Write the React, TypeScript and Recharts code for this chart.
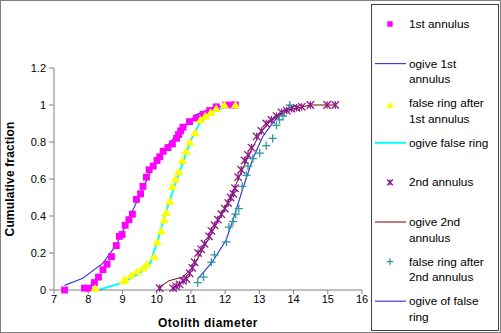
import { ComposedChart, Line, Scatter, XAxis, YAxis } from 'recharts'

// observed cumulative fractions by otolith diameter
const annulus1 = [
  { x: 7.31, y: 0.0 }, { x: 7.89, y: 0.01 }, { x: 8.02, y: 0.01 }, { x: 8.18, y: 0.04 },
  { x: 8.3, y: 0.07 }, { x: 8.43, y: 0.11 }, { x: 8.55, y: 0.14 }, { x: 8.68, y: 0.18 },
  { x: 8.82, y: 0.24 }, { x: 8.91, y: 0.29 }, { x: 8.99, y: 0.3 }, { x: 9.08, y: 0.35 },
  { x: 9.19, y: 0.38 }, { x: 9.29, y: 0.41 }, { x: 9.41, y: 0.49 }, { x: 9.53, y: 0.52 },
  { x: 9.6, y: 0.56 }, { x: 9.7, y: 0.61 }, { x: 9.78, y: 0.65 }, { x: 9.9, y: 0.67 },
  { x: 10.01, y: 0.7 }, { x: 10.09, y: 0.72 }, { x: 10.19, y: 0.75 }, { x: 10.33, y: 0.77 },
  { x: 10.46, y: 0.79 }, { x: 10.58, y: 0.82 }, { x: 10.64, y: 0.84 }, { x: 10.7, y: 0.86 },
  { x: 10.77, y: 0.88 }, { x: 10.96, y: 0.91 }, { x: 11.16, y: 0.93 }, { x: 11.36, y: 0.95 },
  { x: 11.55, y: 0.97 }, { x: 11.74, y: 0.99 }, { x: 12.02, y: 1.0 }, { x: 12.22, y: 1.0 },
  { x: 12.3, y: 1.0 },
]
const ogive1 = [
  { x: 7.31, y: 0.025 }, { x: 7.84, y: 0.063 }, { x: 8.43, y: 0.145 }, { x: 8.82, y: 0.244 },
  { x: 9.3, y: 0.43 }, { x: 9.7, y: 0.59 }, { x: 9.89, y: 0.67 }, { x: 10.38, y: 0.795 },
  { x: 10.77, y: 0.876 }, { x: 11.16, y: 0.948 }, { x: 11.7, y: 0.99 }, { x: 12.3, y: 1.0 },
]
const falseRing1 = [
  { x: 8.2, y: 0.01 }, { x: 9.03, y: 0.05 }, { x: 9.07, y: 0.06 }, { x: 9.26, y: 0.08 },
  { x: 9.43, y: 0.1 }, { x: 9.6, y: 0.12 }, { x: 9.72, y: 0.14 }, { x: 9.93, y: 0.18 },
  { x: 10.01, y: 0.26 }, { x: 10.13, y: 0.32 }, { x: 10.22, y: 0.38 }, { x: 10.28, y: 0.42 },
  { x: 10.38, y: 0.48 }, { x: 10.46, y: 0.56 }, { x: 10.55, y: 0.6 }, { x: 10.65, y: 0.64 },
  { x: 10.75, y: 0.7 }, { x: 10.86, y: 0.75 }, { x: 10.97, y: 0.8 }, { x: 11.12, y: 0.85 },
  { x: 11.28, y: 0.92 }, { x: 11.42, y: 0.94 }, { x: 11.58, y: 0.96 }, { x: 11.74, y: 0.98 },
  { x: 11.98, y: 1.0 }, { x: 12.3, y: 1.0 },
]
const ogiveFalse1 = [
  { x: 8.3, y: 0.0 }, { x: 9.0, y: 0.04 }, { x: 9.5, y: 0.09 }, { x: 9.8, y: 0.14 },
  { x: 10.05, y: 0.28 }, { x: 10.27, y: 0.42 }, { x: 10.5, y: 0.55 }, { x: 10.75, y: 0.68 },
  { x: 11.0, y: 0.81 }, { x: 11.25, y: 0.9 }, { x: 11.6, y: 0.96 }, { x: 12.0, y: 0.99 },
  { x: 12.3, y: 1.0 },
]
const annulus2 = [
  { x: 10.09, y: 0.01 }, { x: 10.48, y: 0.01 }, { x: 10.57, y: 0.02 }, { x: 10.67, y: 0.03 },
  { x: 10.77, y: 0.05 }, { x: 10.87, y: 0.06 }, { x: 10.96, y: 0.09 }, { x: 11.04, y: 0.12 },
  { x: 11.11, y: 0.15 }, { x: 11.21, y: 0.2 }, { x: 11.3, y: 0.22 }, { x: 11.4, y: 0.25 },
  { x: 11.53, y: 0.29 }, { x: 11.6, y: 0.32 }, { x: 11.69, y: 0.35 }, { x: 11.79, y: 0.38 },
  { x: 11.89, y: 0.41 }, { x: 11.99, y: 0.44 }, { x: 12.09, y: 0.47 }, { x: 12.16, y: 0.5 },
  { x: 12.24, y: 0.52 }, { x: 12.29, y: 0.55 }, { x: 12.38, y: 0.61 }, { x: 12.47, y: 0.65 },
  { x: 12.57, y: 0.7 }, { x: 12.67, y: 0.73 }, { x: 12.77, y: 0.77 }, { x: 12.92, y: 0.83 },
  { x: 13.06, y: 0.86 }, { x: 13.2, y: 0.9 }, { x: 13.35, y: 0.92 }, { x: 13.5, y: 0.94 },
  { x: 13.65, y: 0.96 }, { x: 13.8, y: 0.97 }, { x: 13.94, y: 0.98 }, { x: 14.09, y: 0.985 },
  { x: 14.24, y: 0.99 }, { x: 14.49, y: 1.0 }, { x: 14.98, y: 1.0 }, { x: 15.22, y: 1.0 },
]
const ogive2 = [
  { x: 10.04, y: 0.01 }, { x: 10.36, y: 0.05 }, { x: 10.76, y: 0.07 }, { x: 11.05, y: 0.12 },
  { x: 11.35, y: 0.22 }, { x: 11.73, y: 0.35 }, { x: 12.18, y: 0.51 }, { x: 12.5, y: 0.65 },
  { x: 12.75, y: 0.75 }, { x: 13.0, y: 0.84 }, { x: 13.25, y: 0.9 }, { x: 13.5, y: 0.94 },
  { x: 13.75, y: 0.97 }, { x: 14.0, y: 0.98 }, { x: 14.5, y: 1.0 }, { x: 15.2, y: 1.0 },
]
const falseRing2 = [
  { x: 11.2, y: 0.04 }, { x: 11.37, y: 0.07 }, { x: 11.6, y: 0.15 }, { x: 11.69, y: 0.19 },
  { x: 12.04, y: 0.26 }, { x: 12.11, y: 0.34 }, { x: 12.23, y: 0.37 }, { x: 12.31, y: 0.41 },
  { x: 12.4, y: 0.44 }, { x: 12.5, y: 0.56 }, { x: 12.62, y: 0.62 }, { x: 12.67, y: 0.67 },
  { x: 12.81, y: 0.71 }, { x: 13.01, y: 0.74 }, { x: 13.2, y: 0.78 }, { x: 13.39, y: 0.82 },
  { x: 13.5, y: 0.89 }, { x: 13.59, y: 0.92 }, { x: 13.69, y: 0.94 }, { x: 13.89, y: 1.0 },
]
const ogiveFalse2 = [
  { x: 11.2, y: 0.06 }, { x: 11.62, y: 0.15 }, { x: 12.03, y: 0.27 }, { x: 12.25, y: 0.39 },
  { x: 12.52, y: 0.55 }, { x: 12.81, y: 0.71 }, { x: 13.1, y: 0.83 }, { x: 13.5, y: 0.93 },
  { x: 13.8, y: 0.98 }, { x: 14.1, y: 1.0 },
]

const xTicks = [7, 8, 9, 10, 11, 12, 13, 14, 15, 16]
const yTicks = [0, 0.2, 0.4, 0.6, 0.8, 1, 1.2]

const MAGENTA = '#ff00ff'
const YELLOW = '#ffff00'
const PURPLE = '#8a1a8a'
const TEAL = '#2f9a9a'
const BLUE = '#3a3ad8'
const CYAN = '#00ffff'
const MAROON = '#800000'

const font = 'Liberation Sans, Arial, sans-serif'
const tick = { fontFamily: font, fontSize: 11, fill: '#000' }

type Mark = 'square' | 'triangle' | 'star' | 'plus'

function marker(kind: Mark, cx: number, cy: number, s: number) {
  if (kind === 'square') return <rect x={cx - s * 0.42} y={cy - s * 0.42} width={s * 0.84} height={s * 0.84} fill={MAGENTA} />
  if (kind === 'triangle')
    return <path d={`M${cx},${cy - s * 0.52}L${cx + s * 0.58},${cy + s * 0.44}L${cx - s * 0.58},${cy + s * 0.44}Z`} fill={YELLOW} />
  if (kind === 'star') {
    const h = s * 0.45
    return (
      <g stroke={PURPLE} strokeWidth={1.3}>
        <line x1={cx - h} y1={cy - h} x2={cx + h} y2={cy + h} />
        <line x1={cx - h} y1={cy + h} x2={cx + h} y2={cy - h} />
        <line x1={cx} y1={cy - h} x2={cx} y2={cy + h} />
      </g>
    )
  }
  const h = s * 0.5
  return (
    <g stroke={TEAL} strokeWidth={1.3}>
      <line x1={cx - h} y1={cy} x2={cx + h} y2={cy} />
      <line x1={cx} y1={cy - h} x2={cx} y2={cy + h} />
    </g>
  )
}

const shape = (kind: Mark) => (p: any) => marker(kind, p.cx, p.cy, 8.2)

const legendItems: { lines: string[]; mark?: Mark; stroke?: string; width?: number }[] = [
  { lines: ['1st annulus'], mark: 'square' },
  { lines: ['ogive 1st', 'annulus'], stroke: BLUE, width: 1.2 },
  { lines: ['false ring after', '1st annulus'], mark: 'triangle' },
  { lines: ['ogive false ring'], stroke: CYAN, width: 2 },
  { lines: ['2nd annulus'], mark: 'star' },
  { lines: ['ogive 2nd', 'annulus'], stroke: MAROON, width: 1 },
  { lines: ['false ring after', '2nd annulus'], mark: 'plus' },
  { lines: ['ogive of false', 'ring'], stroke: BLUE, width: 1.2 },
]

function LegendBox() {
  return (
    <div style={{ position: 'absolute', left: 371, top: 4, width: 126, height: 325, border: '1px solid #404040', background: '#fff' }}>
      <svg width={126} height={325} style={{ position: 'absolute', left: 0, top: 0 }}>
        {legendItems.map((it, i) => {
          const y = 19 + i * 39.6
          return (
            <g key={i}>
              {it.mark
                ? marker(it.mark, 18, y + (it.mark === 'triangle' ? 2 : 0), 6.5)
                : <line x1={3} x2={34} y1={y} y2={y} stroke={it.stroke} strokeWidth={it.width} />}
              {it.lines.map((t, j) => (
                <text key={j} x={37} y={y + j * 15.7 + 4} fontFamily={font} fontSize={11.8} fill="#000">{t}</text>
              ))}
            </g>
          )
        })}
      </svg>
    </div>
  )
}

export default function App() {
  return (
    <div style={{ position: 'absolute', left: 0, top: 0, width: 501, height: 333, background: '#fff' }}>
      <ComposedChart width={501} height={333} margin={{ top: 68, right: 139, bottom: 0, left: 0 }}>
        <XAxis
          type="number"
          dataKey="x"
          domain={[7, 16]}
          ticks={xTicks}
          interval={0}
          height={43}
          tickSize={4}
          tickMargin={1}
          tick={tick}
          axisLine={{ stroke: '#808080' }}
          tickLine={{ stroke: '#808080' }}
          label={{ value: 'Otolith diameter', position: 'insideBottom', offset: 6, fontFamily: font, fontSize: 12, fontWeight: 'bold', fill: '#000', letterSpacing: 0.5 }}
        />
        <YAxis
          type="number"
          dataKey="y"
          domain={[0, 1.2]}
          ticks={yTicks}
          interval={0}
          width={54}
          tickSize={5}
          tickMargin={3}
          tick={tick}
          tickFormatter={(v: number) => String(+v.toFixed(1))}
          axisLine={{ stroke: '#808080' }}
          tickLine={{ stroke: '#808080' }}
          label={{ value: 'Cumulative fraction', angle: -90, position: 'insideLeft', offset: 10, fontFamily: font, fontSize: 12, fontWeight: 'bold', fill: '#000', letterSpacing: 0.15, style: { textAnchor: 'middle' } }}
        />
        <Line data={ogive1} dataKey="y" stroke={BLUE} strokeWidth={1.2} dot={false} isAnimationActive={false} />
        <Line data={ogiveFalse1} dataKey="y" stroke={CYAN} strokeWidth={2} dot={false} isAnimationActive={false} />
        <Line data={ogive2} dataKey="y" stroke={MAROON} strokeWidth={1} dot={false} isAnimationActive={false} />
        <Line data={ogiveFalse2} dataKey="y" stroke={BLUE} strokeWidth={1.2} dot={false} isAnimationActive={false} />
        <Scatter data={annulus1} dataKey="y" shape={shape('square')} isAnimationActive={false} />
        <Scatter data={falseRing1} dataKey="y" shape={shape('triangle')} isAnimationActive={false} />
        <Scatter data={annulus2} dataKey="y" shape={shape('star')} isAnimationActive={false} />
        <Scatter data={falseRing2} dataKey="y" shape={shape('plus')} isAnimationActive={false} />
      </ComposedChart>
      <LegendBox />
      <div style={{ position: 'absolute', left: 0, top: 0, width: 501, height: 333, boxSizing: 'border-box', border: '1px solid #808080', pointerEvents: 'none' }} />
    </div>
  )
}
